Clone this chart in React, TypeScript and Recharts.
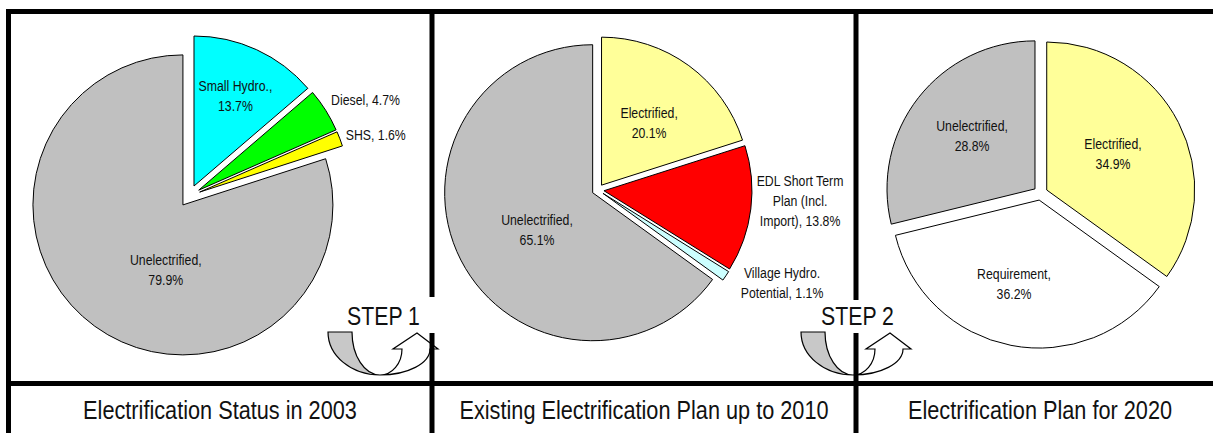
import React from "react";
import { PieChart, Pie, Cell } from "recharts";

// ---------------- data ----------------
const names2003 = ["Small Hydro.", "Diesel", "SHS", "Unelectrified"];
const values2003 = [13.7, 4.7, 1.6, 79.9];
const labelLines2003 = [["Small Hydro.,"], ["Diesel,"], ["SHS,"], ["Unelectrified,"]];
const valueInline2003 = [false, true, true, false];

const names2010 = ["Electrified", "EDL Short Term Plan (Incl. Import)", "Village Hydro. Potential", "Unelectrified"];
const values2010 = [20.1, 13.8, 1.1, 65.1];
const labelLines2010 = [["Electrified,"], ["EDL Short Term", "Plan (Incl.", "Import),"], ["Village Hydro.", "Potential,"], ["Unelectrified,"]];
const valueInline2010 = [false, true, true, false];

const names2020 = ["Electrified", "Requirement", "Unelectrified"];
const values2020 = [34.9, 36.2, 28.8];
const labelLines2020 = [["Electrified,"], ["Requirement,"], ["Unelectrified,"]];
const valueInline2020 = [false, false, false];

const panelTitles = ["Electrification Status in 2003", "Existing Electrification Plan up to 2010", "Electrification Plan for 2020"];
const stepLabels = ["STEP 1", "STEP 2"];

// ---------------- styles / layout ----------------
const W = 1213;
const H = 433;
const FONT = "'Liberation Sans', Arial, Helvetica, sans-serif";
const LABEL_SIZE = 15;
const LABEL_SCALE = 0.82;
const LINE_H = 20;

const colors2003 = ["#00FFFF", "#00FF00", "#FFFF00", "#C0C0C0"];
const colors2010 = ["#FFFF99", "#FF0000", "#CCFFFF", "#C0C0C0"];
const colors2020 = ["#FFFF99", "#FFFFFF", "#C0C0C0"];

type LabelPos = { rf: number; da: number; anchor: "start" | "middle" | "end" };
type PieCfg = {
  key: string;
  names: string[];
  values: number[];
  colors: string[];
  lines: string[][];
  inline: boolean[];
  cx: number;
  cy: number;
  r: number;
  explode: number;
  labels: LabelPos[];
};

const pies: PieCfg[] = [
  {
    key: "p2003",
    names: names2003,
    values: values2003,
    colors: colors2003,
    lines: labelLines2003,
    inline: valueInline2003,
    cx: 189.4,
    cy: 196,
    r: 150,
    explode: 11,
    labels: [
      { rf: 0.735, da: 0, anchor: "middle" },
      { rf: 1.144, da: -2.2, anchor: "start" },
      { rf: 1.12, da: -0.7, anchor: "start" },
      { rf: 0.517, da: -18.3, anchor: "middle" },
    ],
  },
  {
    key: "p2010",
    names: names2010,
    values: values2010,
    colors: colors2010,
    lines: labelLines2010,
    inline: valueInline2010,
    cx: 598,
    cy: 190,
    r: 148,
    explode: 6,
    labels: [
      { rf: 0.572, da: 1, anchor: "middle" },
      { rf: 1.367, da: -4.1, anchor: "middle" },
      { rf: 1.393, da: -7.1, anchor: "middle" },
      { rf: 0.493, da: -6.2, anchor: "middle" },
    ],
  },
  {
    key: "p2020",
    names: names2020,
    values: values2020,
    colors: colors2020,
    lines: labelLines2020,
    inline: valueInline2020,
    cx: 1040.5,
    cy: 193.2,
    r: 148,
    explode: 7,
    labels: [
      { rf: 0.557, da: -1.3, anchor: "middle" },
      { rf: 0.639, da: 5.3, anchor: "middle" },
      { rf: 0.603, da: 1.8, anchor: "middle" },
    ],
  },
];

const titleCenters = [220, 644, 1040];
const TITLE_BASE = 419;
const stepCenters = [383.5, 857.5];
const STEP_BASE = 325;
const arrowOrigins = [328, 801];
const ARROW_TOP = 332;

// clockwise-from-12 mid angle of slice i
function cwMid(values: number[], i: number) {
  const sum = values.reduce((a, b) => a + b, 0);
  let cum = 0;
  for (let k = 0; k < i; k++) cum += values[k];
  return ((cum + values[i] / 2) / sum) * 360;
}

const makeLabel = (cfg: PieCfg) => (props: any) => {
  const index: number = props.index;
  const L = cfg.labels[index];
  const mid = typeof props.midAngle === "number" ? 90 - props.midAngle : cwMid(cfg.values, index);
  const a = ((mid + L.da) * Math.PI) / 180;
  const rr = L.rf * cfg.r;
  const x = cfg.cx + rr * Math.sin(a);
  const y = cfg.cy - rr * Math.cos(a);
  const textLines = [...cfg.lines[index]];
  const v = `${cfg.values[index].toFixed(1)}%`;
  if (cfg.inline[index]) textLines[textLines.length - 1] += " " + v;
  else textLines.push(v);
  const n = textLines.length;
  return (
    <text
      key={`${cfg.key}-lbl-${index}`}
      transform={`translate(${x},${y}) scale(${LABEL_SCALE},1)`}
      textAnchor={L.anchor}
      fontSize={LABEL_SIZE}
      fontFamily={FONT}
      fill="#111"
    >
      {textLines.map((t, j) => (
        <tspan key={j} x={0} y={(j - (n - 1) / 2) * LINE_H + 0.36 * LABEL_SIZE}>
          {t}
        </tspan>
      ))}
    </text>
  );
};

function renderSlicePies(cfg: PieCfg) {
  const data = cfg.names.map((name, i) => ({ name, value: cfg.values[i] }));
  return cfg.values.map((_, k) => {
    const m = (cwMid(cfg.values, k) * Math.PI) / 180;
    const cx = cfg.cx + cfg.explode * Math.sin(m);
    const cy = cfg.cy - cfg.explode * Math.cos(m);
    return (
      <Pie
        key={`${cfg.key}-s${k}`}
        data={data}
        dataKey="value"
        nameKey="name"
        cx={cx}
        cy={cy}
        innerRadius={0}
        outerRadius={cfg.r}
        startAngle={90}
        endAngle={-270}
        isAnimationActive={false}
        label={false}
        labelLine={false}
      >
        {data.map((_, i) => (
          <Cell
            key={i}
            fill={i === k ? cfg.colors[i] : "none"}
            stroke={i === k ? "#000" : "none"}
            strokeWidth={1}
          />
        ))}
      </Pie>
    );
  });
}

function renderLabelPie(cfg: PieCfg) {
  const data = cfg.names.map((name, i) => ({ name, value: cfg.values[i] }));
  return (
    <Pie
      key={`${cfg.key}-labels`}
      data={data}
      dataKey="value"
      nameKey="name"
      cx={cfg.cx}
      cy={cfg.cy}
      innerRadius={0}
      outerRadius={cfg.r}
      startAngle={90}
      endAngle={-270}
      isAnimationActive={false}
      fill="none"
      stroke="none"
      label={makeLabel(cfg)}
      labelLine={false}
    >
      {data.map((_, i) => (
        <Cell key={i} fill="none" stroke="none" />
      ))}
    </Pie>
  );
}

function Arrow({ ox, oy }: { ox: number; oy: number }) {
  return (
    <g transform={`translate(${ox},${oy})`}>
      <path
        d="M0,0 L24,0 A28,43 0 0 0 52,43 A52,43 0 0 1 0,0 Z"
        fill="#C8C8C8"
        stroke="#000"
        strokeWidth={1.2}
      />
      <path
        d="M52,43 A50,26 0 0 0 102,17 L110,17 L89,1 L65,17 L74,17 A22,26 0 0 1 52,43 Z"
        fill="#FFFFFF"
        stroke="#000"
        strokeWidth={1.2}
      />
    </g>
  );
}

export default function App() {
  return (
    <div style={{ position: "absolute", left: 0, top: 0, width: W, height: H, background: "#fff", overflow: "hidden" }}>
      <div style={{ position: "absolute", left: 0, top: 0 }}>
        <PieChart width={W} height={H} margin={{ top: 0, right: 0, bottom: 0, left: 0 }}>
          {pies.map((cfg) => renderSlicePies(cfg))}
          {pies.map((cfg) => renderLabelPie(cfg))}
        </PieChart>
      </div>
      <svg width={W} height={H} style={{ position: "absolute", left: 0, top: 0, pointerEvents: "none" }}>
        {arrowOrigins.map((ox, i) => (
          <Arrow key={i} ox={ox} oy={ARROW_TOP} />
        ))}
        <g stroke="#000" strokeWidth={5} fill="none">
          <line x1={6} y1={11.5} x2={W} y2={11.5} />
          <line x1={8.5} y1={9} x2={8.5} y2={H} />
          <line x1={6} y1={383.5} x2={W} y2={383.5} />
          <line x1={432} y1={9} x2={432} y2={297} />
          <line x1={432} y1={333} x2={432} y2={H} />
          <line x1={856} y1={9} x2={856} y2={300} />
          <line x1={856} y1={333} x2={856} y2={H} />
        </g>
        {stepLabels.map((t, i) => (
          <text
            key={t}
            transform={`translate(${stepCenters[i]},${STEP_BASE}) scale(0.85,1)`}
            textAnchor="middle"
            fontSize={25}
            fontFamily={FONT}
            fill="#111"
          >
            {t}
          </text>
        ))}
        {panelTitles.map((t, i) => (
          <text
            key={t}
            transform={`translate(${titleCenters[i]},${TITLE_BASE}) scale(0.835,1)`}
            textAnchor="middle"
            fontSize={26}
            fontFamily={FONT}
            fill="#111"
          >
            {t}
          </text>
        ))}
      </svg>
    </div>
  );
}
